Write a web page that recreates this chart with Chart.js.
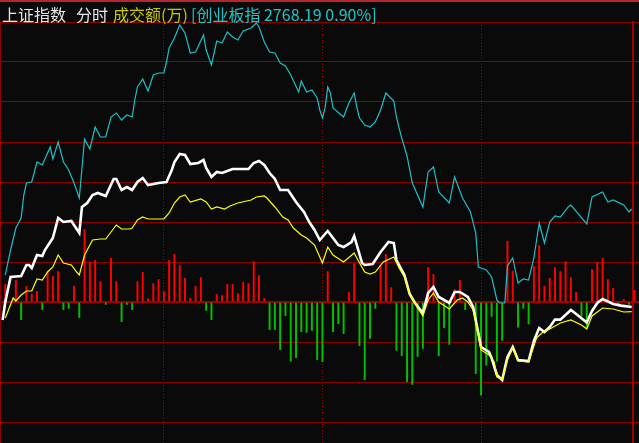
<!DOCTYPE html>
<html>
<head>
<meta charset="utf-8">
<title>上证指数 分时</title>
<script src="https://cdn.jsdelivr.net/npm/chart.js@4.4.1/dist/chart.umd.min.js"></script>
<style>
  body { margin: 0; background: #0a0a0a; }
  #wrap { position: relative; width: 639px; height: 443px; overflow: hidden; background: #0a0a0a; }
  #topbar { position: absolute; left: 0; top: 0; width: 639px; height: 2px; background: #b4282c; }
  .t { position: absolute; top: 6px; font-size: 16px; font-family: "Noto Sans CJK SC", sans-serif; line-height: 16px; white-space: pre; }
  #myChart { position: absolute; left: 0; top: 0; }
</style>
</head>
<body>
<div id="wrap">
  <canvas id="myChart" width="639" height="443"></canvas>
  <div id="topbar"></div>
  <span class="t" style="left:2px;color:#e6e6e6">上证指数</span>
  <span class="t" style="left:76px;color:#e6e6e6">分时</span>
  <span class="t" style="left:113px;color:#c8c800">成交额(万)</span>
  <span class="t" style="left:191px;color:#1ec8c8">[创业板指 2768.19 0.90%]</span>
</div>
<script>
// minute index, value (grid step = 10)
const shIndex = [[0,-4.5],[1,0],[3,6.25],[7,6.5],[9,9.25],[10,9.25],[11,8.5],[13,11.75],[15,11.5],[16,13],[19,16],[20,18.5],[21,21],[23,20],[26,20.25],[27,19.25],[29,17.25],[30,23.75],[32,24.75],[34,26.75],[36,27.25],[39,26.5],[42,30.75],[43,30.75],[45,28],[47,28.75],[49,28],[51,30],[53,31],[55,29.25],[59,29.75],[62,30],[64,33],[65,35],[67,37],[69,36.75],[71,34.5],[74,34.75],[76,35.5],[77,33.5],[79,31.25],[81,32.5],[83,32.25],[85,32.75],[87,33.25],[93,33.25],[95,34.75],[97,35.25],[99,34.25],[101,32.25],[103,30.75],[105,28],[108,28],[111,25],[114,22.5],[116,20],[118,18],[120,15.5],[121,16.25],[123,17.75],[125,16],[127,14.25],[129,13.75],[132,15],[133,16.5],[136,9.75],[137,9.25],[140,9.5],[143,12.5],[146,15],[148,14.75],[149,10.5],[152,6.75],[154,2],[156,-0.25],[159,-2.75],[161,2.25],[163,3.75],[165,1.25],[169,-0.25],[171,2.5],[173,2.5],[176,1.25],[178,-1.25],[179,-4.5],[181,-11.25],[184,-12.5],[185,-14],[187,-18.25],[189,-19.5],[191,-13.75],[193,-11.25],[195,-14.5],[199,-14.75],[201,-9.75],[203,-6.5],[205,-7.5],[207,-6.25],[209,-4.4],[211,-4.4],[215,-2],[217,-3],[221,-5.1],[223,-2.25],[225,-0.25],[227,0.75],[231,-0.5],[234,-0.9],[238,-1.25]];

const avgPrice = [[1,-4],[4,1],[5,0.25],[7,1.75],[9,2.75],[11,2.75],[13,5.75],[15,5.5],[17,7.5],[19,8.75],[21,11.75],[23,9.75],[26,9.25],[28,7.5],[29,6.75],[31,11.75],[34,15.5],[37,15.75],[39,15.75],[41,17.5],[43,19.25],[45,18.25],[48,18.25],[49,18.5],[51,20.5],[53,21.25],[55,20.75],[61,20.75],[63,22.25],[65,24.75],[67,26.25],[69,26.75],[71,25],[75,25.75],[77,25],[79,23.25],[81,23.75],[84,23.25],[86,24],[89,24.75],[94,25.5],[96,26.25],[99,26.5],[100,26],[103,23.75],[106,21.25],[108,20.5],[110,18.5],[113,16.75],[115,16],[118,14.25],[120,11.25],[121,9.75],[123,13.75],[125,11.75],[129,10],[133,12.25],[134,11],[137,7.5],[139,7],[141,7.5],[144,10],[148,11.25],[150,8.5],[152,6.25],[154,2],[157,-1.5],[159,-3.5],[161,0.5],[163,2.25],[165,0],[169,-1.75],[172,0.5],[174,1],[176,0],[178,-2],[179,-5],[181,-12],[184,-13.25],[186,-15],[187,-18.75],[189,-19.25],[191,-14.5],[193,-11.5],[195,-14.75],[199,-15],[202,-9],[204,-7.75],[207,-6.75],[211,-5.25],[215,-4.5],[219,-5.75],[221,-6.75],[223,-3.5],[227,-1.5],[231,-1.75],[235,-2.5],[238,-2.4]];

const cybIndex = [[1,6.75],[3,13],[5,18.5],[7,21],[8,26.75],[9,29.75],[11,30],[13,35],[15,34.25],[18,38.75],[19,35.75],[21,40],[23,35],[25,33],[27,29.75],[29,26],[31,40.75],[33,38.25],[35,43.75],[37,41.25],[39,41.25],[41,46.25],[43,47.25],[45,45.5],[47,46.75],[49,46.25],[50,50.5],[51,53.75],[53,55.75],[55,52.75],[57,56.75],[59,57.25],[61,57.25],[62,60],[63,63.5],[65,66],[67,69.25],[69,67.25],[71,62.25],[73,62.5],[76,66.75],[77,63],[79,59.25],[81,65.25],[83,64.75],[85,67.5],[87,66.25],[89,65.5],[91,67.75],[94,68.5],[96,69.75],[97,68.75],[99,65],[101,62.5],[103,62.25],[105,59.75],[107,59],[109,56.75],[112,52.5],[113,55.25],[115,52.5],[117,53],[119,51],[120,48],[121,46],[122,48.5],[123,53.75],[124,52.25],[125,48.5],[129,46.25],[131,49.75],[133,52.25],[134,48.75],[135,46],[137,44.25],[139,43.75],[141,45],[143,48],[145,52.25],[148,50.25],[149,46.25],[150,43.5],[151,41],[153,36.5],[155,29.75],[159,23.75],[161,32.5],[163,33.75],[165,27.5],[169,24.75],[171,31.25],[174,26],[177,22.5],[179,17.25],[180,8.75],[183,8],[185,6.25],[187,0.5],[188,-0.25],[190,-0.25],[191,9],[193,11],[195,4.75],[197,5.75],[199,5.5],[201,11],[203,19.75],[205,14.75],[207,20],[209,21.5],[211,21.25],[214,23.75],[215,24.25],[221,19.5],[223,26.25],[227,27.5],[229,25],[231,25.5],[235,24.25],[237,22.5],[238,23.25]];

// one bar every 2 minutes (minute 1, 3, 5 ...)
const volDiff = [4.4,0,5.4,-4.4,3.9,1.9,2.6,-1.9,7.6,6.4,
  7.6,-1.9,-1.6,3.9,-3.9,18.1,10,10.4,5.1,-0.6,
  10.9,5.1,-4.9,-0.6,-1.9,5.1,7.4,0.8,4.6,5.6,
  2.6,10.4,11.9,9.1,5.9,0.9,3.9,6.1,-2.1,-4.4,
  1.9,1.6,4.4,4.4,2.1,4.9,4.6,10.1,6.6,0.9,
  -6.9,-6.9,-11.9,-3.4,-14.8,-13.9,-7.4,-7.6,-7.1,-14.4,
  -14.9,7.6,-7.4,-5.4,-7.9,2.4,9.6,-10.9,-19.4,-9.1,
  -1.6,9.1,11.9,3.6,-12.1,-13.4,-19.9,-20.6,-13.6,-11.6,
  8.6,6.9,-13.4,-6.4,-10.6,3.1,5.4,-1.9,0,-17.9,
  -23.3,-15.8,-3.6,-14.8,-9.6,15.2,7.75,-6.3,-1.6,-5.5,
  8.9,14.1,3.9,5.9,8.6,7.6,10.1,6.1,2.4,-3.6,
  -6.6,8.1,9.9,10.9,5.6,3.4,-0.6,0.6,-0.6,2.9];

// 10:30, 11:30/13:00, 14:00
const xGridAt = [61, 121, 181];
// right frame of the plot
const xFrame = 238.5;
const xMin = -1, xMax = 240.77;
const yMin = -35.25, yMax = 70;

const gridRed = '#8c0000';

let ctx = document.getElementById('myChart').getContext('2d');
const toXY = arr => arr.map(p => ({x: p[0], y: p[1]}));

new Chart(ctx, {
  type: 'line',
  data: {
    datasets: [
      {
        label: '均价',
        data: toXY(avgPrice),
        borderColor: '#ffff00',
        borderWidth: 1.2,
        pointRadius: 0,
        tension: 0
      },
      {
        label: '上证指数',
        data: toXY(shIndex),
        borderColor: '#ffffff',
        borderWidth: 2.6,
        pointRadius: 0,
        tension: 0
      },
      {
        label: '创业板指',
        data: toXY(cybIndex),
        borderColor: '#1ec0c8',
        borderWidth: 1.2,
        pointRadius: 0,
        tension: 0
      },
      {
        type: 'bar',
        label: '成交额',
        data: volDiff.map((v, k) => ({x: 2 * k + 1, y: v})),
        backgroundColor: volDiff.map(v => v >= 0 ? '#ff0000' : '#00c000'),
        barThickness: 1.3,
        grouped: false
      }
    ]
  },
  options: {
    responsive: false,
    animation: false,
    events: [],
    layout: { padding: { left: 0, top: 22, right: 0, bottom: 0 } },
    plugins: { legend: { display: false }, tooltip: { enabled: false } },
    scales: {
      x: {
        type: 'linear',
        min: xMin,
        max: xMax,
        offset: false,
        ticks: { display: false },
        afterBuildTicks: s => { s.ticks = xGridAt.map(v => ({value: v})); },
        grid: { offset: false, drawTicks: false, color: '#a00000' },
        border: { display: false, dash: [1, 2] }
      },
      y: {
        min: yMin,
        max: yMax,
        ticks: { display: false, stepSize: 10 },
        grid: {
          drawTicks: false,
          color: c => (c.tick && c.tick.value === 0) ? '#9a0000' : gridRed,
          lineWidth: c => (c.tick && c.tick.value === 0) ? 2 : 1
        },
        border: { display: true, color: gridRed, width: 1 }
      },
      yFrame: {
        type: 'linear',
        position: { x: xFrame },
        min: yMin,
        max: yMax,
        ticks: { display: false },
        grid: { display: false, drawTicks: false },
        border: { display: true, color: '#a00000', width: 2 }
      }
    }
  }
});
</script>
</body>
</html>
